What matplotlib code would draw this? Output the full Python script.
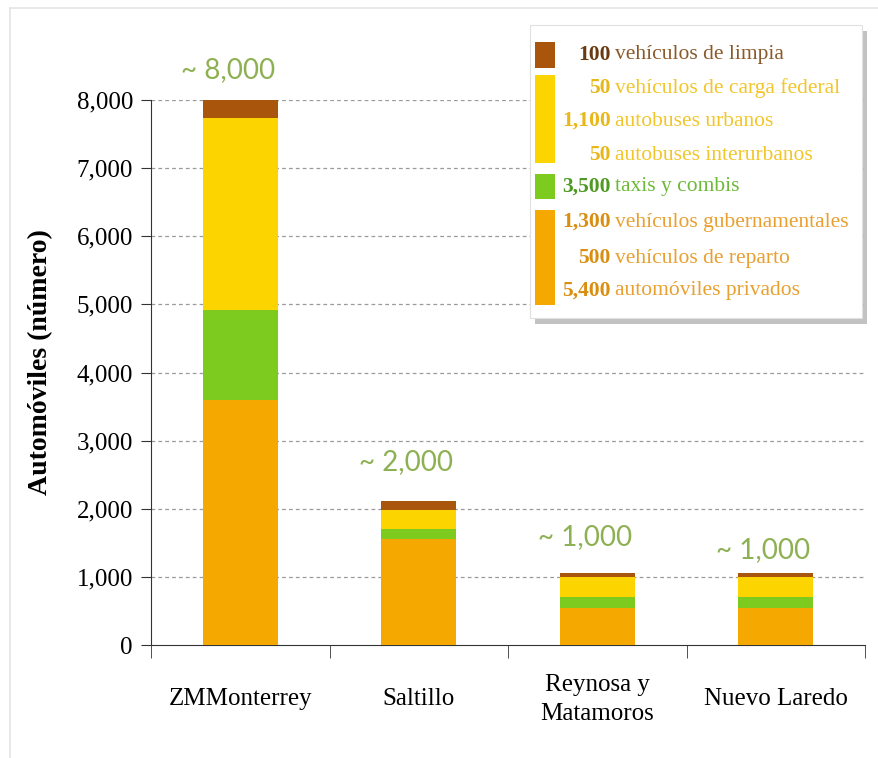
import matplotlib.pyplot as plt
from matplotlib.patches import Rectangle
from matplotlib.ticker import FuncFormatter, FixedLocator

# data
cities = ["ZMMonterrey", "Saltillo", "Reynosa y\nMatamoros", "Nuevo Laredo"]
privados = [3600, 1550, 540, 540]      # orange: privados + reparto + gubernamentales
taxis = [1320, 160, 160, 160]          # green
autobuses = [2820, 270, 300, 300]      # yellow: urbanos + interurbanos + carga
limpia = [260, 130, 57, 57]            # brown
totals = ["~ 8,000", "~ 2,000", "~ 1,000", "~ 1,000"]

leg_nums = ["100", "50", "1,100", "50", "3,500", "1,300", "500", "5,400"]
leg_text = ["vehículos de limpia", "vehículos de carga federal", "autobuses urbanos",
            "autobuses interurbanos", "taxis y combis", "vehículos gubernamentales",
            "vehículos de reparto", "automóviles privados"]

c_orange = "#F5A800"
c_green = "#7DCB1E"
c_yellow = "#FCD500"
c_brown = "#A9560C"
t_colors = ["#8B5A2B", "#F2C62A", "#F2C62A", "#F2C62A", "#6DB93A", "#E8A030", "#E8A030", "#E8A030"]
n_colors = ["#6B3A10", "#E8B818", "#E8B818", "#E8B818", "#4E9A22", "#D98E10", "#D98E10", "#D98E10"]

W, H = 879, 758
fig = plt.figure(figsize=(W / 100, H / 100), dpi=100)
fx = lambda px: px / W
fy = lambda py: 1 - py / H

ax = fig.add_axes([fx(151), fy(645), fx(865) - fx(151), fy(100) - fy(645)])
x = range(len(cities))
bw = 0.42
b1 = privados
b2 = [a + b for a, b in zip(b1, taxis)]
b3 = [a + b for a, b in zip(b2, autobuses)]
ax.bar(x, privados, bw, color=c_orange, zorder=3)
ax.bar(x, taxis, bw, bottom=b1, color=c_green, zorder=3)
ax.bar(x, autobuses, bw, bottom=b2, color=c_yellow, zorder=3)
ax.bar(x, limpia, bw, bottom=b3, color=c_brown, zorder=3)

tops = [a + b for a, b in zip(b3, limpia)]
lab_dy = [30, 39, 36, 23]
for i, t in enumerate(totals):
    ax.annotate(t, (i, tops[i]), xytext=(-9, lab_dy[i] * 0.72), textcoords="offset points",
                ha="center", va="center", fontsize=20, color="#8DB152",
                family="Lato", annotation_clip=False)

ax.set_xlim(-0.5, 3.5)
ax.set_ylim(0, 8000)
ax.set_yticks(range(0, 8001, 1000))
ax.yaxis.set_major_formatter(FuncFormatter(lambda v, p: f"{int(v):,}"))
for v in range(1000, 8001, 1000):
    ax.axhline(v, color="#9A9A9A", lw=0.9, ls=(0, (3, 2.5)), zorder=1)

ax.set_xticks(list(x))
ax.set_xticklabels(cities, family="Liberation Serif", fontsize=18, va="center")
for lab in ax.get_xticklabels():
    lab.set_linespacing(1.4)
ax.xaxis.set_minor_locator(FixedLocator([-0.5, 0.5, 1.5, 2.5, 3.5]))
ax.tick_params(axis="x", which="major", length=0, pad=39)
ax.tick_params(axis="x", which="minor", length=9, color="#333333", direction="out")
ax.tick_params(axis="y", length=7, color="#333333", direction="out", pad=6)
for lab in ax.get_yticklabels():
    lab.set_family("Liberation Serif")
    lab.set_fontsize(18)
ax.spines["top"].set_visible(False)
ax.spines["right"].set_visible(False)
ax.spines["left"].set_color("#333333")
ax.spines["bottom"].set_color("#333333")
ax.set_ylabel("Automóviles (número)", family="Liberation Serif", fontweight="bold",
              fontsize=20)
ax.yaxis.set_label_coords(-0.137, 0.52)

# legend box with shadow
tf = fig.transFigure
fig.patches.append(Rectangle((fx(535), fy(324)), fx(862) - fx(530), fy(25) - fy(318),
                             transform=tf, facecolor="#9A9A9A", edgecolor="none",
                             alpha=0.6, zorder=4))
fig.patches.append(Rectangle((fx(530), fy(318)), fx(862) - fx(530), fy(25) - fy(318),
                             transform=tf, facecolor="white", edgecolor="#E0E0E0",
                             lw=0.8, zorder=5))
swatches = [(42, 68, c_brown), (75, 163, c_yellow), (174, 199, c_green), (210, 305, c_orange)]
for y0, y1, c in swatches:
    fig.patches.append(Rectangle((fx(535), fy(y1)), fx(555) - fx(535), fy(y0) - fy(y1),
                                 transform=tf, facecolor=c, edgecolor="none", zorder=6))
row_y = [55, 88, 121, 155, 187, 222, 258, 291]
for i in range(len(leg_nums)):
    fig.text(fx(611), fy(row_y[i]), leg_nums[i], ha="right", va="center", fontsize=15.5,
             fontweight="bold", family="Liberation Serif", color=n_colors[i], zorder=7)
    fig.text(fx(615), fy(row_y[i]), leg_text[i], ha="left", va="center", fontsize=15.5,
             family="Liberation Serif", color=t_colors[i], zorder=7)

# faint outer frame
fig.add_artist(plt.Line2D([fx(10), fx(10)], [0, fy(8)], transform=tf, color="#E4E4E4", lw=1.2))
fig.add_artist(plt.Line2D([fx(10), 1], [fy(8), fy(8)], transform=tf, color="#E4E4E4", lw=1.2))

fig.savefig("out.png", dpi=100)
